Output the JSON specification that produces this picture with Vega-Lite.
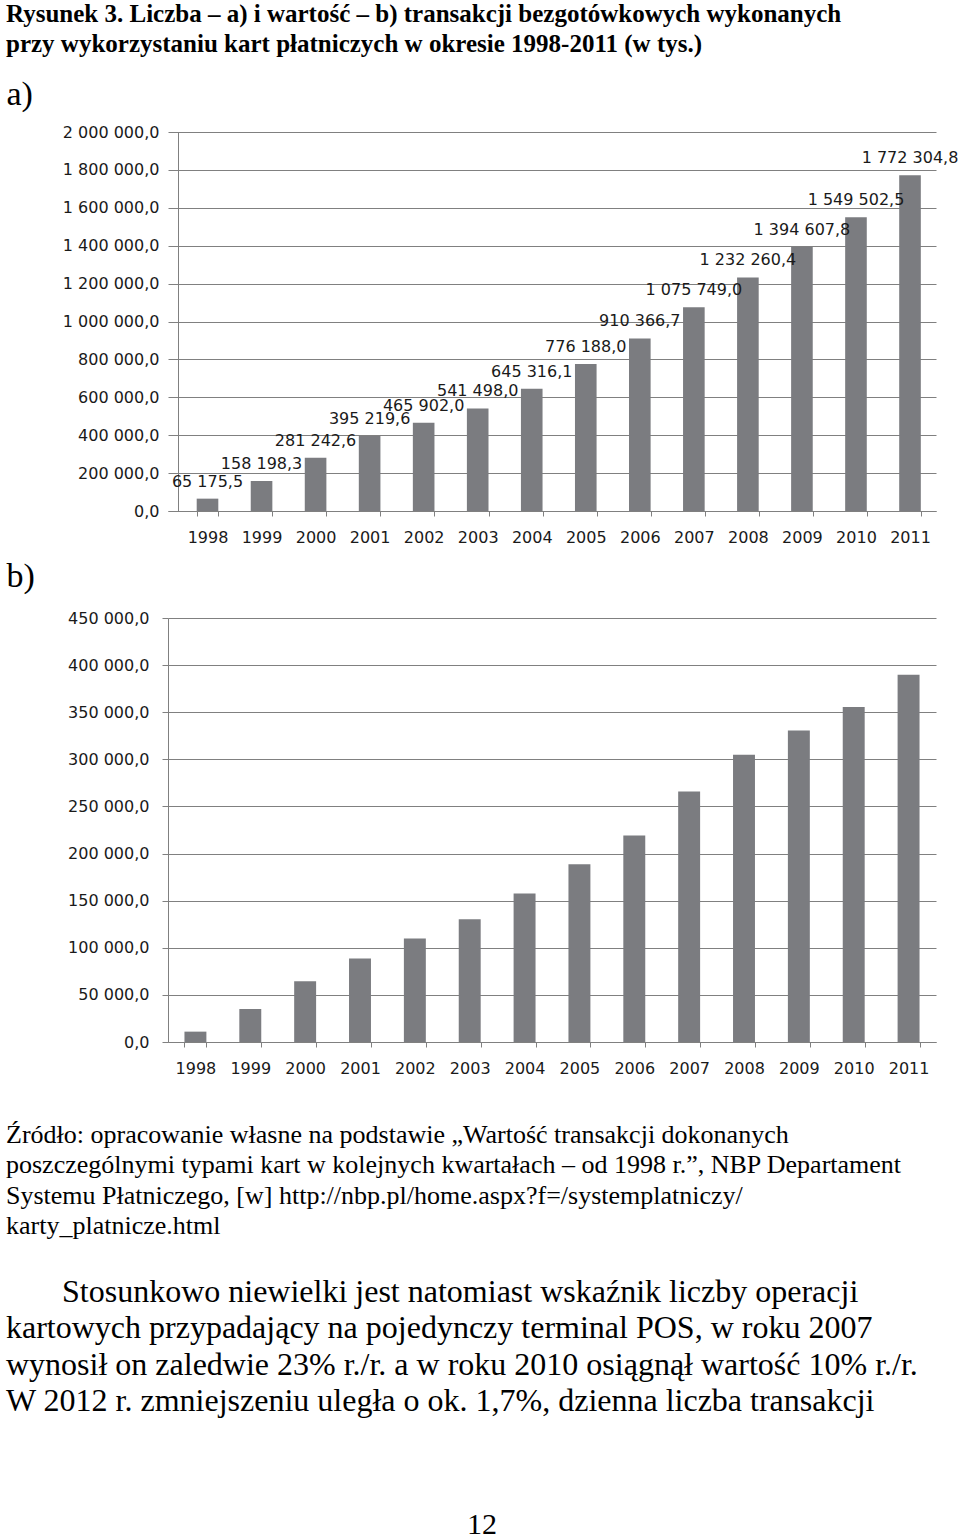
{
  "$schema": "https://vega.github.io/schema/vega-lite/v6.json",
  "background": "white",
  "padding": {"left": 5, "top": 2, "right": 0, "bottom": 0},
  "title": {
    "text": ["Rysunek 3. Liczba – a) i wartość – b) transakcji bezgotówkowych wykonanych", "przy wykorzystaniu kart płatniczych w okresie 1998-2011 (w tys.)"],
    "anchor": "start",
    "font": "Liberation Serif",
    "fontSize": 25,
    "fontWeight": "bold",
    "lineHeight": 30,
    "color": "black",
    "offset": 20
  },
  "spacing": 14,
  "vconcat": [
    {
      "width": 768,
      "height": 379,
      "data": {"values": [
        {"rok": "1998", "liczba": 65175.5},
        {"rok": "1999", "liczba": 158198.3},
        {"rok": "2000", "liczba": 281242.6},
        {"rok": "2001", "liczba": 395219.6},
        {"rok": "2002", "liczba": 465902.0},
        {"rok": "2003", "liczba": 541498.0},
        {"rok": "2004", "liczba": 645316.1},
        {"rok": "2005", "liczba": 776188.0},
        {"rok": "2006", "liczba": 910366.7},
        {"rok": "2007", "liczba": 1075749.0},
        {"rok": "2008", "liczba": 1232260.4},
        {"rok": "2009", "liczba": 1394607.8},
        {"rok": "2010", "liczba": 1549502.5},
        {"rok": "2011", "liczba": 1772304.8}
      ]},
      "encoding": {
        "x": {
          "field": "rok", "type": "ordinal",
          "scale": {"paddingInner": 0.6, "paddingOuter": 0.406, "align": 0.654},
          "axis": {"title": null, "labelAngle": 0, "tickBand": "extent", "tickSize": 5, "labelPadding": 13}
        },
        "y": {
          "field": "liczba", "type": "quantitative",
          "scale": {"domain": [0, 2000000]},
          "axis": {
            "tickCount": 10, "format": ",.1f", "grid": true, "offset": -10,
            "title": "a)", "titleAngle": 0, "titleAlign": "left", "titleBaseline": "alphabetic",
            "titleX": -172, "titleY": -28,
            "titleFont": "Liberation Serif", "titleFontSize": 34, "titleFontWeight": "normal", "titleColor": "black"
          }
        }
      },
      "layer": [
        {"mark": {"type": "bar", "color": "#7b7c80"}},
        {
          "mark": {"type": "text", "baseline": "alphabetic", "dy": -12, "font": "DejaVu Sans", "fontSize": 16, "color": "#1a1a1a"},
          "encoding": {"text": {"field": "liczba", "type": "quantitative", "format": ",.1f"}}
        }
      ]
    },
    {
      "width": 768,
      "height": 424,
      "data": {"values": [
        {"rok": "1998", "wartosc": 11000},
        {"rok": "1999", "wartosc": 35000},
        {"rok": "2000", "wartosc": 64400},
        {"rok": "2001", "wartosc": 88500},
        {"rok": "2002", "wartosc": 109800},
        {"rok": "2003", "wartosc": 130300},
        {"rok": "2004", "wartosc": 157600},
        {"rok": "2005", "wartosc": 188700},
        {"rok": "2006", "wartosc": 219200},
        {"rok": "2007", "wartosc": 265900},
        {"rok": "2008", "wartosc": 304900},
        {"rok": "2009", "wartosc": 330700},
        {"rok": "2010", "wartosc": 355500},
        {"rok": "2011", "wartosc": 389900}
      ]},
      "mark": {"type": "bar", "color": "#7b7c80"},
      "encoding": {
        "x": {
          "field": "rok", "type": "ordinal",
          "scale": {"paddingInner": 0.6, "paddingOuter": 0.3},
          "axis": {"title": null, "labelAngle": 0, "tickBand": "extent", "tickSize": 5, "labelPadding": 13}
        },
        "y": {
          "field": "wartosc", "type": "quantitative",
          "scale": {"domain": [0, 450000]},
          "axis": {
            "tickCount": 9, "format": ",.1f", "grid": true,
            "title": "b)", "titleAngle": 0, "titleAlign": "left", "titleBaseline": "alphabetic",
            "titleX": -162, "titleY": -32,
            "titleFont": "Liberation Serif", "titleFontSize": 34, "titleFontWeight": "normal", "titleColor": "black"
          }
        }
      }
    },
    {
      "width": 950,
      "height": 159,
      "data": {"values": [
        {"wiersz": 1, "tekst": "Źródło: opracowanie własne na podstawie „Wartość transakcji dokonanych"},
        {"wiersz": 2, "tekst": "poszczególnymi typami kart w kolejnych kwartałach – od 1998 r.”, NBP Departament"},
        {"wiersz": 3, "tekst": "Systemu Płatniczego, [w] http://nbp.pl/home.aspx?f=/systemplatniczy/"},
        {"wiersz": 4, "tekst": "karty_platnicze.html"}
      ]},
      "mark": {"type": "text", "align": "left", "baseline": "alphabetic", "font": "Liberation Serif", "fontSize": 26, "color": "black"},
      "encoding": {
        "x": {"datum": 0, "type": "quantitative", "scale": {"domain": [0.17053, 1.17053]}, "axis": null},
        "y": {"field": "wiersz", "type": "quantitative", "scale": {"domain": [-0.743, 4.487], "reverse": true}, "axis": null},
        "text": {"field": "tekst"}
      }
    },
    {
      "width": 950,
      "height": 160,
      "data": {"values": [
        {"wiersz": 1, "tekst": "Stosunkowo niewielki jest natomiast wskaźnik liczby operacji"},
        {"wiersz": 2, "tekst": "kartowych przypadający na pojedynczy terminal POS, w roku 2007"},
        {"wiersz": 3, "tekst": "wynosił on zaledwie 23% r./r. a w roku 2010 osiągnął wartość 10% r./r."},
        {"wiersz": 4, "tekst": "W 2012 r. zmniejszeniu uległa o ok. 1,7%, dzienna liczba transakcji"}
      ]},
      "encoding": {
        "x": {"datum": 0, "type": "quantitative", "scale": {"domain": [0.17053, 1.17053]}, "axis": null},
        "y": {"field": "wiersz", "type": "quantitative", "scale": {"domain": [-0.0735, 4.33], "reverse": true}, "axis": null},
        "text": {"field": "tekst"}
      },
      "layer": [
        {
          "transform": [{"filter": "datum.wiersz == 1"}],
          "mark": {"type": "text", "align": "left", "baseline": "alphabetic", "font": "Liberation Serif", "fontSize": 32, "color": "black", "dx": 56}
        },
        {
          "transform": [{"filter": "datum.wiersz > 1"}],
          "mark": {"type": "text", "align": "left", "baseline": "alphabetic", "font": "Liberation Serif", "fontSize": 32, "color": "black"}
        }
      ]
    },
    {
      "width": 952,
      "height": 100,
      "data": {"values": [{"wiersz": 1, "tekst": "12"}]},
      "mark": {"type": "text", "align": "center", "baseline": "alphabetic", "font": "Liberation Serif", "fontSize": 30, "color": "black"},
      "encoding": {
        "x": {"datum": 0.5, "type": "quantitative", "scale": {"domain": [0.17017, 1.17017]}, "axis": null},
        "y": {"field": "wiersz", "type": "quantitative", "scale": {"domain": [0.03, 1.03], "reverse": true}, "axis": null},
        "text": {"field": "tekst"}
      }
    }
  ],
  "config": {
    "locale": {"number": {"decimal": ",", "thousands": " ", "grouping": [3], "currency": ["", ""]}},
    "view": {"stroke": null},
    "axis": {
      "labelFont": "DejaVu Sans",
      "labelFontSize": 16,
      "labelColor": "#1a1a1a",
      "domainColor": "#808080",
      "tickColor": "#808080",
      "gridColor": "#808080",
      "gridOpacity": 1,
      "domainWidth": 1,
      "tickWidth": 1
    },
    "axisY": {"tickSize": 6, "labelPadding": 13}
  }
}
